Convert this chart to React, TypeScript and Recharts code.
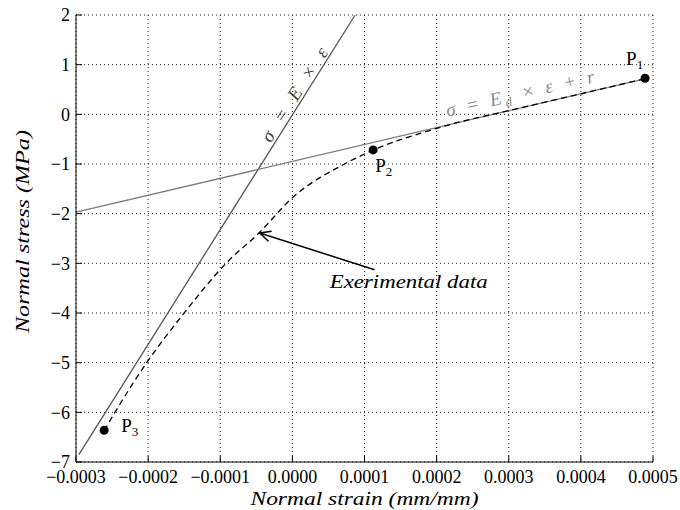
import React from 'react';
import { ComposedChart, Line, XAxis, YAxis, CartesianGrid, ReferenceDot, ReferenceLine } from 'recharts';

const strainTicks = [-0.0003, -0.0002, -0.0001, 0, 0.0001, 0.0002, 0.0003, 0.0004, 0.0005];
const stressTicks = [-7, -6, -5, -4, -3, -2, -1, 0, 1, 2];

// sigma = E x eps
const elasticStrain = [-0.000296, 0.000087];
const elasticStress = [-6.85, 2.0];

// sigma = Ed x eps + r
const damagedStrain = [-0.0003, 0.00049];
const damagedStress = [-1.97, 0.72];

// experimental data (dashed)
const expStrain = [-0.000261, -0.000246, -0.000202, -0.00015, -0.000092, -0.000045, 0.0, 0.000075, 0.000125, 0.000176, 0.00022, 0.0003, 0.0004, 0.00049];
const expStress = [-6.37, -6.0, -5.0, -4.0, -3.0, -2.37, -1.68, -0.98, -0.64, -0.39, -0.2, 0.074, 0.414, 0.72];

const pointNames = ['1', '2', '3'];
const pointStrain = [0.000489, 0.000112, -0.000261];
const pointStress = [0.726, -0.716, -6.36];

const toRows = (xs: number[], ys: number[]) => xs.map((x, i) => ({ x, y: ys[i] }));
const elasticData = toRows(elasticStrain, elasticStress);
const damagedData = toRows(damagedStrain, damagedStress);
const expData = toRows(expStrain, expStress);

const FONT = 'Liberation Serif, Times New Roman, DejaVu Serif, serif';
const serif = { fontFamily: FONT };

const fmtStrain = (v: number) => (v < -1e-12 ? '\u2212' : '') + Math.abs(v).toFixed(4);
const fmtStress = (v: number) => (v < 0 ? '\u2212' + Math.abs(v) : String(v));

const center = (vb: any) => ({ cx: vb.x + vb.width / 2, cy: vb.y + vb.height / 2 });

// label offsets for P1, P2, P3 (px from dot centre)
const pointLabelOffset = [[-19, -13], [2, 22], [17, 2]];

const Arrow = (p: any) => {
  const { x1, y1, x2, y2 } = p;
  const a = Math.atan2(y1 - y2, x1 - x2);
  const len = 12;
  const spread = 0.45;
  return (
    <g stroke="#000" strokeWidth={1.5} fill="none">
      <line x1={x1} y1={y1} x2={x2} y2={y2} />
      <line x1={x2} y1={y2} x2={x2 + len * Math.cos(a + spread)} y2={y2 + len * Math.sin(a + spread)} />
      <line x1={x2} y1={y2} x2={x2 + len * Math.cos(a - spread)} y2={y2 + len * Math.sin(a - spread)} />
    </g>
  );
};

export default function App() {
  return (
    <div style={{ position: 'absolute', left: 0, top: 0, fontFamily: FONT }}>
      <ComposedChart width={680} height={510} margin={{ top: 15, right: 27, bottom: 0, left: 0 }} style={serif}>
        <CartesianGrid stroke="#222" strokeDasharray="1 3" />
        <XAxis
          xAxisId={0}
          dataKey="x"
          type="number"
          domain={[-0.0003, 0.0005]}
          ticks={strainTicks}
          tickFormatter={fmtStrain}
          height={48}
          tickSize={-6}
          tickMargin={14}
          stroke="#000"
          tick={{ fill: '#000', fontSize: 18, style: serif }}
          label={(p: any) => {
            const { cx } = center(p.viewBox);
            return (
              <text x={cx} y={p.viewBox.y + 43} textAnchor="middle" style={{ ...serif, fontStyle: 'italic' }} fontSize={19}
                textLength={228} lengthAdjust="spacingAndGlyphs" fill="#000">
                Normal strain (mm/mm)
              </text>
            );
          }}
        />
        <XAxis xAxisId="top" orientation="top" dataKey="x" type="number" domain={[-0.0003, 0.0005]} ticks={strainTicks}
          height={0} tickSize={-6} tick={false} stroke="#000" />
        <YAxis
          yAxisId={0}
          type="number"
          domain={[-7, 2]}
          ticks={stressTicks}
          tickFormatter={fmtStress}
          width={76}
          tickSize={-6}
          tickMargin={12}
          stroke="#000"
          tick={{ fill: '#000', fontSize: 18, style: serif }}
          label={(p: any) => {
            const { cy } = center(p.viewBox);
            return (
              <text x={29} y={cy - 7} transform={`rotate(-90 29 ${cy - 7})`} textAnchor="middle"
                style={{ ...serif, fontStyle: 'italic' }} fontSize={19} textLength={203} lengthAdjust="spacingAndGlyphs" fill="#000">
                Normal stress (MPa)
              </text>
            );
          }}
        />
        <YAxis yAxisId="right" orientation="right" type="number" domain={[-7, 2]} ticks={stressTicks}
          width={0} tickSize={-6} tick={false} stroke="#000" />

        <Line data={elasticData} dataKey="y" type="linear" stroke="#555" strokeWidth={1.3} dot={false} isAnimationActive={false} />
        <Line data={damagedData} dataKey="y" type="linear" stroke="#7a7a7a" strokeWidth={1.3} dot={false} isAnimationActive={false} />
        <Line data={expData} dataKey="y" type="monotone" stroke="#000" strokeWidth={1.3} strokeDasharray="6 4" dot={false} isAnimationActive={false} />

        <ReferenceLine segment={[{ x: 0.000114, y: -3.13 }, { x: -0.0000452, y: -2.39 }]} shape={Arrow} />

        <ReferenceDot x={0.0000102} y={0.33} r={1} fill="none" stroke="none"
          label={(p: any) => {
            const { cx, cy } = center(p.viewBox);
            return (
              <text x={cx} y={cy} transform={`rotate(-57.6 ${cx} ${cy})`} textAnchor="middle"
                style={{ ...serif, fontStyle: 'italic' }} fontSize={19} fill="#444" textLength={108} lengthAdjust="spacing">
                σ = E × ε
              </text>
            );
          }}
        />
        <ReferenceDot x={0.0003177} y={0.3} r={1} fill="none" stroke="none"
          label={(p: any) => {
            const { cx, cy } = center(p.viewBox);
            return (
              <text x={cx} y={cy} transform={`rotate(-13.1 ${cx} ${cy})`} textAnchor="middle"
                style={{ ...serif, fontStyle: 'italic' }} fontSize={19} fill="#8a8a8a" textLength={152} lengthAdjust="spacing">
                <tspan>σ = E</tspan>
                <tspan dy={4} fontSize={13}>d</tspan>
                <tspan dy={-4}> × ε + r</tspan>
              </text>
            );
          }}
        />
        <ReferenceDot x={0.0000518} y={-3.49} r={1} fill="none" stroke="none"
          label={(p: any) => {
            const { cx, cy } = center(p.viewBox);
            return (
              <text x={cx} y={cy} textAnchor="start" style={{ ...serif, fontStyle: 'italic' }} fontSize={19} fill="#000"
                textLength={158} lengthAdjust="spacingAndGlyphs">
                Exerimental data
              </text>
            );
          }}
        />

        {pointNames.map((name, i) => (
          <ReferenceDot key={name} x={pointStrain[i]} y={pointStress[i]} r={4.5} fill="#000" stroke="none"
            label={(p: any) => {
              const { cx, cy } = center(p.viewBox);
              const [dx, dy] = pointLabelOffset[i];
              return (
                <text x={cx + dx} y={cy + dy} style={serif} fontSize={19} fill="#000">
                  <tspan>P</tspan>
                  <tspan dy={4} fontSize={13}>{name}</tspan>
                </text>
              );
            }}
          />
        ))}
      </ComposedChart>
    </div>
  );
}
